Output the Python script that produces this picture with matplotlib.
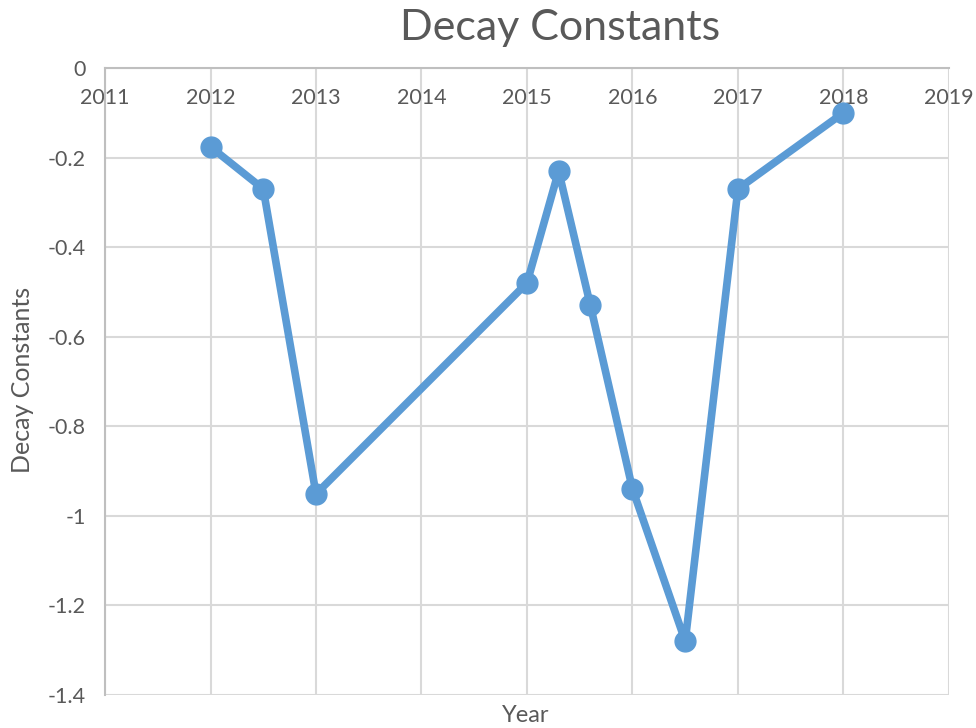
import matplotlib
matplotlib.use("Agg")
import matplotlib.pyplot as plt

plt.rcParams['font.family'] = ['Lato', 'DejaVu Sans']

# decay constant per measurement date (fractional years)
years = [2012.0, 2012.5, 2013.0, 2015.0, 2015.3, 2015.6, 2016.0, 2016.5, 2017.0, 2018.0]
decay = [-0.176, -0.27, -0.951, -0.48, -0.23, -0.529, -0.94, -1.28, -0.27, -0.10]

x_ticks = list(range(2011, 2020))
y_ticks = [0, -0.2, -0.4, -0.6, -0.8, -1, -1.2, -1.4]
y_labels = ['0', '-0.2', '-0.4', '-0.6', '-0.8', '-1', '-1.2', '-1.4']

text_col = '#595959'
grid_col = '#d9d9d9'

fig = plt.figure(figsize=(9.76, 7.28), dpi=100)
ax = fig.add_axes([0.1076, 0.0453, 0.8647, 0.8613])

ax.plot(years, decay, color='#5b9bd5', lw=5.5, marker='o', ms=15,
        solid_capstyle='round', zorder=3)

ax.set_xlim(2011, 2019)
ax.set_ylim(-1.4, 0)
ax.set_xticks(x_ticks)
ax.set_yticks(y_ticks)
ax.set_yticklabels(y_labels)
ax.grid(True, color=grid_col, lw=1.5)

for side in ('right', 'bottom'):
    ax.spines[side].set_visible(False)
for side in ('top', 'left'):
    ax.spines[side].set_color('#bfbfbf')
    ax.spines[side].set_linewidth(1.5)

# x axis crosses at y=0, labels sit just under it
ax.tick_params(axis='x', top=False, bottom=False, labeltop=True,
               labelbottom=False, length=0, pad=-29,
               labelsize=15.5, labelcolor=text_col)
ax.tick_params(axis='y', length=0, pad=14, labelsize=15.5, labelcolor=text_col)

fig.text(0.574, 0.962, 'Decay Constants', ha='center', va='center',
         fontsize=31, color=text_col)
fig.text(0.539, 0.017, 'Year', ha='center', va='center',
         fontsize=17, color=text_col)
fig.text(0.023, 0.478, 'Decay Constants', ha='center', va='center',
         rotation=90, fontsize=18, color=text_col)

fig.savefig('out.png', dpi=100)
